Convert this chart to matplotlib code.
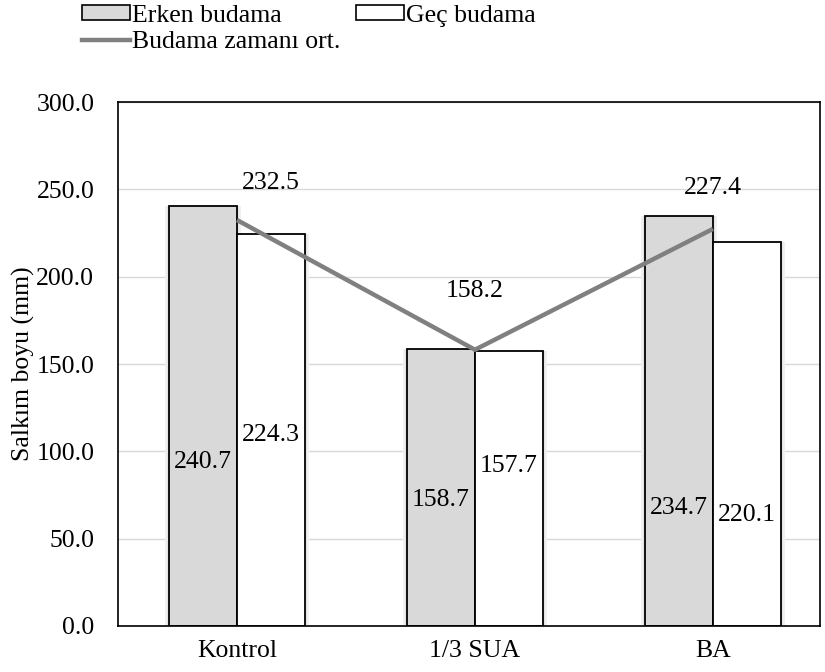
import matplotlib
matplotlib.use("Agg")
import matplotlib.pyplot as plt
import numpy as np
from matplotlib.patches import Patch
from matplotlib.lines import Line2D

plt.rcParams['font.family'] = ['Liberation Serif', 'DejaVu Serif']

categories = ["Kontrol", "1/3 SUA", "BA"]
erken = [240.7, 158.7, 234.7]
gec = [224.3, 157.7, 220.1]
ortalama = [232.5, 158.2, 227.4]
yticks = [0, 50, 100, 150, 200, 250, 300]

# vertical positions of the value labels (data units)
erken_label_y = [93.9, 72.1, 67.6]
gec_label_y = [109.4, 91.6, 63.5]
ort_label_y = [253.6, 191.8, 250.8]

fig = plt.figure(figsize=(8.25, 6.72), dpi=100)
ax = fig.add_axes([0.143, 0.0685, 0.851, 0.7795])

x = np.arange(len(categories))
w = 0.286
fs = 18.5

# soft shadow behind the bars
for dx, c in [(0.03, '#f0f0f0'), (0.018, '#e4e4e4')]:
    ax.bar(x - w / 2, erken, width=w + dx, color=c, edgecolor='none', zorder=1)
    ax.bar(x + w / 2, gec, width=w + dx, color=c, edgecolor='none', zorder=1)

ax.bar(x - w / 2, erken, width=w, color='#d9d9d9', edgecolor='black', linewidth=1.3, zorder=2)
ax.bar(x + w / 2, gec, width=w, color='white', edgecolor='black', linewidth=1.3, zorder=2)
ax.plot(x, ortalama, color='#808080', linewidth=3.2, zorder=3, solid_capstyle='butt')

for i in range(len(categories)):
    ax.text(x[i] - w / 2, erken_label_y[i], f"{erken[i]:.1f}", ha='center', va='center', fontsize=fs, zorder=4)
    ax.text(x[i] + w / 2, gec_label_y[i], f"{gec[i]:.1f}", ha='center', va='center', fontsize=fs, zorder=4)
    ax.text(x[i] + (0.143 if i == 0 else 0.0), ort_label_y[i], f"{ortalama[i]:.1f}", ha='center', va='center', fontsize=fs, zorder=4)

ax.set_xlim(-0.5, 2.45)
ax.set_ylim(0, 300)
ax.set_yticks(yticks)
ax.set_yticklabels([f"{v:.1f}" for v in yticks], fontsize=fs)
ax.set_xticks(x)
ax.set_xticklabels(categories, fontsize=fs)
ax.tick_params(axis='x', length=0, pad=10)
ax.tick_params(axis='y', length=0, pad=17)
ax.yaxis.grid(True, color='#d9d9d9', linewidth=1)
ax.set_axisbelow(True)
for s in ax.spines.values():
    s.set_linewidth(1.2)
    s.set_color('black')
ax.set_ylabel("Salkım boyu (mm)", fontsize=fs, labelpad=1)

handles = [
    Patch(facecolor='#d9d9d9', edgecolor='black', linewidth=1.2),
    Line2D([0], [0], color='#808080', linewidth=3.2),
    Patch(facecolor='white', edgecolor='black', linewidth=1.2),
]
labels = ["Erken budama", "Budama zamanı ort.", "Geç budama"]
fig.legend(handles, labels, loc='upper left', bbox_to_anchor=(0.078, 1.02), ncol=2,
           frameon=False, fontsize=fs, handlelength=1.85, handleheight=0.55,
           handletextpad=0.1, columnspacing=0.6, labelspacing=0.18, borderpad=0.2)

fig.savefig("out.png", dpi=100)
